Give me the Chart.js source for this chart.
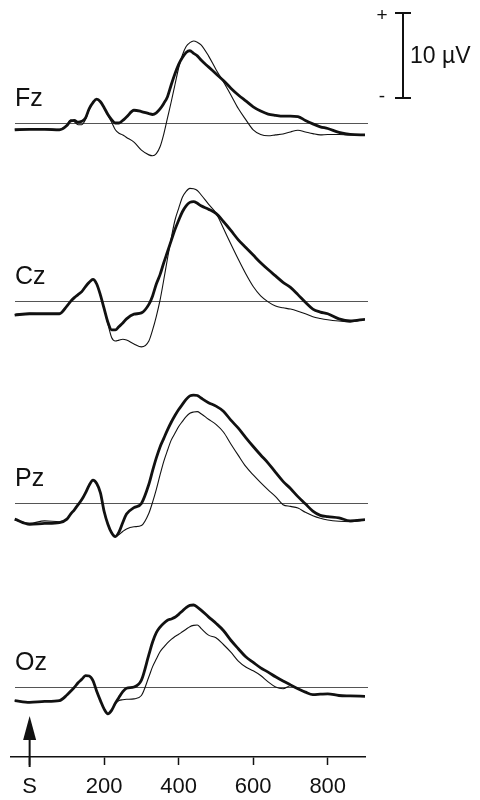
<!DOCTYPE html>
<html>
<head>
<meta charset="utf-8">
<script src="https://cdn.jsdelivr.net/npm/chart.js@4"></script>
<style>
  html, body { margin: 0; padding: 0; background: #fff; }
  #erp { display: block; }
</style>
</head>
<body>
<canvas id="erp" width="480" height="800"></canvas>
<script>
// time points (ms after stimulus S), shared by every trace
const times = [-40, 0, 40, 80, 100, 110, 120, 130, 140, 150, 160, 170, 180, 190, 200, 210, 220, 230, 240, 250, 260, 280, 300, 320, 330, 340, 350, 360, 370, 380, 390, 400, 410, 420, 430, 440, 450, 460, 480, 500, 520, 540, 560, 580, 600, 620, 640, 660, 680, 700, 720, 740, 760, 780, 800, 830, 860, 900];

const channels = ['Fz', 'Cz', 'Pz', 'Oz'];

// amplitudes in µV, thick trace and thin trace per channel
const fzThick = [-0.8, -0.75, -0.75, -0.8, -0.3, 0.25, 0.3, 0.1, 0.2, 0.6, 1.7, 2.4, 2.8, 2.5, 1.8, 1.0, 0.4, 0.0, 0.0, 0.3, 0.7, 1.5, 1.35, 1.1, 1.0, 1.2, 1.65, 2.3, 3.1, 4.5, 5.8, 6.9, 7.7, 8.3, 8.5, 8.2, 7.9, 7.4, 6.6, 5.8, 5.0, 4.1, 3.3, 2.6, 1.9, 1.4, 1.05, 0.9, 0.8, 0.8, 0.75, 0.3, -0.1, -0.45, -0.65, -1.1, -1.35, -1.4];
const fzThin  = [-0.7, -0.7, -0.65, -0.75, -0.2, 0.35, 0.15, -0.2, -0.2, 0.4, 1.6, 2.4, 2.8, 2.5, 1.8, 0.9, 0.1, -0.8, -1.2, -1.4, -1.7, -2.25, -3.2, -3.75, -3.85, -3.6, -2.8, -1.3, 0.6, 2.5, 4.5, 6.5, 8.0, 9.0, 9.45, 9.65, 9.5, 9.2, 7.9, 6.3, 4.85, 3.3, 1.7, 0.4, -0.8, -1.35, -1.5, -1.4, -1.3, -1.05, -0.85, -1.05, -1.25, -1.4, -1.35, -1.35, -1.4, -1.4];

const czThick = [-1.65, -1.5, -1.5, -1.5, -0.6, -0.05, 0.4, 0.75, 1.1, 1.7, 2.2, 2.55, 2.0, 0.7, -0.9, -2.5, -3.4, -3.4, -3.0, -2.6, -2.1, -1.55, -1.4, -0.4, 0.6, 2.0, 3.1, 4.5, 5.8, 7.1, 8.4, 9.5, 10.5, 11.2, 11.6, 11.7, 11.5, 11.2, 10.8, 10.3, 9.35, 8.3, 7.2, 6.3, 5.4, 4.5, 3.7, 2.95, 2.2, 1.6, 0.75, -0.15, -0.95, -1.3, -1.5, -2.1, -2.35, -2.15];
const czThin  = [-1.6, -1.45, -1.5, -1.5, -0.6, -0.05, 0.4, 0.75, 1.1, 1.7, 2.2, 2.55, 2.0, 0.7, -0.9, -2.7, -4.3, -4.7, -4.6, -4.5, -4.6, -5.05, -5.4, -4.7, -3.4, -1.8, 0.1, 2.5, 5.0, 7.4, 9.5, 10.9, 12.2, 12.9, 13.25, 13.2, 13.0, 12.5, 11.4, 10.35, 8.55, 6.7, 4.9, 3.2, 1.7, 0.6, -0.1, -0.6, -0.8, -0.95, -1.2, -1.5, -1.85, -2.05, -2.2, -2.35, -2.45, -2.15];

const pzThick = [-1.9, -2.5, -2.4, -2.3, -1.9, -1.3, -0.8, -0.2, 0.4, 1.2, 2.1, 2.7, 2.3, 1.2, -1.0, -2.5, -3.5, -3.95, -3.4, -2.3, -1.3, -0.55, -0.05, 2.2, 3.8, 5.3, 6.6, 7.6, 8.6, 9.5, 10.3, 11.0, 11.6, 12.2, 12.6, 12.7, 12.65, 12.35, 11.8, 11.4, 10.8, 9.75, 8.8, 7.7, 6.65, 5.65, 4.7, 3.6, 2.55, 1.7, 0.75, -0.1, -0.95, -1.45, -1.6, -1.75, -2.1, -1.95];
const pzThin  = [-2.0, -2.4, -2.1, -2.2, -1.9, -1.3, -0.8, -0.2, 0.4, 1.2, 2.1, 2.7, 2.3, 1.2, -1.0, -2.5, -3.5, -3.95, -3.7, -3.35, -3.05, -2.8, -2.65, -1.2, 0.1, 1.6, 3.3, 4.9, 6.2, 7.4, 8.2, 9.0, 9.6, 10.15, 10.55, 10.7, 10.75, 10.5, 9.85, 9.25, 8.35, 6.95, 5.6, 4.3, 3.3, 2.4, 1.55, 0.75, -0.2, -0.4, -0.6, -1.1, -1.5, -1.8, -2.0, -2.15, -2.2, -2.0];

const ozThick = [-1.6, -1.8, -1.7, -1.6, -0.95, -0.5, -0.05, 0.5, 0.9, 1.35, 1.3, 0.75, -0.5, -1.6, -2.6, -3.15, -2.75, -1.9, -1.2, -0.55, -0.15, 0.0, 0.8, 3.8, 5.3, 6.4, 7.05, 7.5, 7.85, 8.0, 8.2, 8.55, 8.95, 9.35, 9.6, 9.65, 9.4, 9.05, 8.25, 7.5, 6.65, 5.5, 4.5, 3.55, 2.9, 2.25, 1.75, 1.2, 0.7, 0.25, -0.2, -0.6, -0.9, -0.85, -0.8, -1.0, -1.05, -1.1];
const ozThin  = [-1.6, -1.8, -1.7, -1.6, -0.95, -0.5, -0.05, 0.5, 0.9, 1.35, 1.3, 0.75, -0.5, -1.6, -2.6, -3.15, -2.75, -2.0, -1.6, -1.5, -1.45, -1.4, -1.0, 1.2, 2.4, 3.3, 4.15, 4.7, 5.2, 5.6, 5.95, 6.2, 6.5, 6.8, 7.1, 7.25, 7.3, 6.9, 6.1, 5.8, 5.0, 4.1, 3.05, 2.35, 1.9, 1.35, 0.6, 0.0, -0.2, 0.15, -0.2, -0.6, -0.9, -0.85, -0.8, -1.0, -1.05, -1.1];

const thickSeries = [fzThick, czThick, pzThick, ozThick];
const thinSeries = [fzThin, czThin, pzThin, ozThin];

// x axis ticks
const xTicks = [0, 200, 400, 600, 800];
const xTickLabels = ['S', '200', '400', '600', '800'];

// scale bar
const scaleBarUv = 10;
const scaleBarLabel = '10 µV';

// layout: zero line of each channel (px from top), µV -> px
const baseY = [123, 301, 503, 687];
const pxPerUv = 8.5;
const areaBottom = 757;
const ink = '#111';
const fontFam = '"Liberation Sans", Arial, Helvetica, sans-serif';

function toPoints(arr) {
    return times.map((t, k) => ({ x: t, y: arr[k] }));
}

let datasets = [];
let yScales = {};
channels.forEach((ch, i) => {
    let id = 'y' + i;
    datasets.push({
        label: ch + ' thick',
        data: toPoints(thickSeries[i]),
        yAxisID: id,
        borderColor: ink,
        borderWidth: 2.8,
        pointRadius: 0,
        cubicInterpolationMode: 'monotone',
        fill: false
    });
    datasets.push({
        label: ch + ' thin',
        data: toPoints(thinSeries[i]),
        yAxisID: id,
        borderColor: ink,
        borderWidth: 1.1,
        pointRadius: 0,
        cubicInterpolationMode: 'monotone',
        fill: false
    });
    yScales[id] = {
        type: 'linear',
        display: false,
        min: -(areaBottom - baseY[i]) / pxPerUv,
        max: baseY[i] / pxPerUv
    };
});

// baselines, channel names, stimulus arrow, scale bar
const decorations = {
    id: 'decorations',
    beforeDraw(chart) {
        let ctx = chart.ctx;
        ctx.save();
        ctx.fillStyle = '#fff';
        ctx.fillRect(0, 0, chart.width, chart.height);
        ctx.restore();
    },
    beforeDatasetsDraw(chart) {
        let ctx = chart.ctx;
        ctx.save();
        ctx.strokeStyle = '#555';
        ctx.lineWidth = 1;
        channels.forEach((ch, i) => {
            let y = Math.round(chart.scales['y' + i].getPixelForValue(0)) + 0.5;
            ctx.beginPath();
            ctx.moveTo(15, y);
            ctx.lineTo(368, y);
            ctx.stroke();
        });
        ctx.restore();
    },
    afterDraw(chart) {
        let ctx = chart.ctx;
        let x = chart.scales.x;
        ctx.save();
        ctx.fillStyle = ink;
        ctx.strokeStyle = ink;

        // channel names
        ctx.font = '25px ' + fontFam;
        ctx.textAlign = 'left';
        ctx.textBaseline = 'alphabetic';
        channels.forEach((ch, i) => {
            let y = chart.scales['y' + i].getPixelForValue(0);
            ctx.fillText(ch, 15, y - 17);
        });

        // stimulus arrow
        let ax = x.getPixelForValue(0);
        ctx.lineWidth = 2;
        ctx.beginPath();
        ctx.moveTo(ax, 738);
        ctx.lineTo(ax, 767);
        ctx.stroke();
        ctx.beginPath();
        ctx.moveTo(ax, 716);
        ctx.lineTo(ax - 6.5, 740);
        ctx.lineTo(ax + 6.5, 740);
        ctx.closePath();
        ctx.fill();

        // scale bar
        let s = chart.scales.y0;
        let barH = s.getPixelForValue(0) - s.getPixelForValue(scaleBarUv);
        let bx = 403, top = 13, bot = top + barH;
        ctx.lineWidth = 2;
        ctx.beginPath();
        ctx.moveTo(bx, top);
        ctx.lineTo(bx, bot);
        ctx.moveTo(bx - 8, top);
        ctx.lineTo(bx + 8, top);
        ctx.moveTo(bx - 8, bot);
        ctx.lineTo(bx + 8, bot);
        ctx.stroke();
        ctx.font = '19px ' + fontFam;
        ctx.textAlign = 'center';
        ctx.textBaseline = 'middle';
        ctx.fillText('+', 382, top + 3);
        ctx.fillText('-', 382, bot - 1);
        ctx.font = '23px ' + fontFam;
        ctx.textAlign = 'left';
        ctx.fillText(scaleBarLabel, 410, (top + bot) / 2 + 1);
        ctx.restore();
    }
};

let config = {
    type: 'line',
    data: { datasets: datasets },
    options: {
        responsive: false,
        animation: false,
        events: [],
        layout: { padding: { left: 11, right: 115, top: 0, bottom: 0 } },
        plugins: { legend: { display: false }, tooltip: { enabled: false } },
        scales: Object.assign({
            x: {
                type: 'linear',
                position: 'bottom',
                min: -50,
                max: 900,
                afterFit: (scale) => { scale.height = 800 - areaBottom; },
                afterBuildTicks: (scale) => { scale.ticks = xTicks.map(v => ({ value: v })); },
                ticks: {
                    color: ink,
                    font: { size: 22, family: fontFam },
                    padding: 9,
                    maxRotation: 0,
                    callback: (v) => xTickLabels[xTicks.indexOf(v)]
                },
                grid: { drawOnChartArea: false, drawTicks: true, tickLength: 8, tickWidth: 1.5, tickColor: ink },
                border: { display: true, color: ink, width: 1.5 }
            }
        }, yScales)
    },
    plugins: [decorations]
};

let erp_chart = new Chart(document.getElementById('erp'), config);
</script>
</body>
</html>
